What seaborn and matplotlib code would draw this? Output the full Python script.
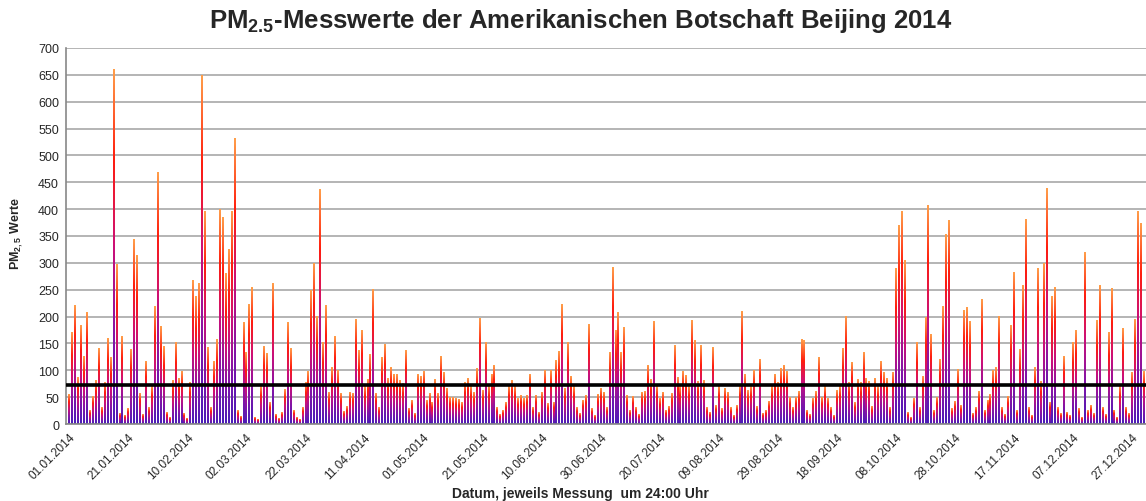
"""
PM2.5 Tageswerte der US-Botschaft Beijing 2014 als Balkendiagramm mit Farbverlauf.
"""

import numpy as np
import pandas as pd
import matplotlib
matplotlib.use("Agg")
import matplotlib.pyplot as plt
from matplotlib.colors import LinearSegmentedColormap
import seaborn as sns

# Tageswerte, je Monat
jan = [54, 171, 221, 86, 183, 126, 208, 25, 52, 81, 141, 30, 77, 160, 123, 660,
       297, 20, 162, 15, 28, 138, 344, 313, 56, 18, 116, 30, 70, 219, 469]
feb = [182, 145, 22, 12, 81, 151, 85, 97, 20, 10, 77, 268, 238, 262, 649, 395,
       143, 30, 116, 157, 400, 384, 281, 325, 395, 531, 25, 14]
mar = [189, 133, 223, 255, 12, 8, 69, 145, 131, 40, 261, 18, 10, 22, 64, 189,
       141, 25, 12, 9, 30, 77, 97, 248, 298, 201, 436, 152, 221, 59, 106]
apr = [162, 100, 56, 24, 32, 59, 56, 195, 136, 175, 69, 83, 129, 251, 56, 30,
       123, 148, 84, 106, 92, 92, 81, 76, 136, 28, 43, 20, 93, 89]
may = [98, 44, 56, 40, 83, 56, 126, 95, 67, 50, 50, 48, 45, 40, 77, 84, 69, 59,
       104, 197, 62, 152, 69, 93, 108, 30, 18, 25, 40, 70, 81]
jun = [69, 48, 53, 48, 53, 92, 30, 53, 22, 59, 100, 38, 100, 40, 118, 135, 222,
       67, 151, 89, 69, 30, 20, 44, 53, 185, 28, 15, 54, 67]
jul = [59, 30, 134, 292, 174, 208, 133, 180, 53, 25, 52, 30, 18, 59, 61, 109,
       82, 191, 69, 47, 59, 25, 32, 56, 146, 87, 69, 97, 90, 69, 193]
aug = [155, 79, 146, 81, 30, 22, 143, 35, 69, 28, 66, 58, 30, 15, 35, 69, 210,
       92, 62, 70, 100, 32, 121, 20, 25, 42, 69, 92, 78, 103, 108]
sep = [97, 50, 30, 50, 61, 157, 156, 25, 18, 47, 61, 124, 50, 69, 47, 30, 15,
       62, 69, 141, 201, 78, 115, 40, 83, 78, 134, 84, 79, 32]
oct_ = [85, 69, 116, 95, 85, 30, 95, 290, 369, 396, 304, 22, 12, 47, 151, 30,
        89, 198, 406, 166, 25, 50, 120, 219, 352, 379, 28, 42, 101, 35, 211]
nov = [217, 190, 20, 30, 61, 232, 25, 44, 54, 100, 106, 200, 30, 18, 52, 183,
       282, 25, 138, 257, 381, 30, 15, 106, 290, 79, 298, 439, 40, 238]
dec = [255, 30, 20, 126, 22, 15, 151, 175, 28, 12, 319, 25, 35, 20, 193, 257,
       30, 18, 171, 253, 25, 12, 69, 178, 30, 20, 95, 195, 395, 373, 98]

grenzwert = 72
y_ticks = list(range(0, 701, 50))

werte = jan + feb + mar + apr + may + jun + jul + aug + sep + oct_ + nov + dec
datum = pd.date_range("2014-01-01", periods=len(werte), freq="D").strftime("%d.%m.%Y")
df = pd.DataFrame({"Datum": datum, "PM25": werte})

sns.set_theme(style="white")
plt.rcParams["font.family"] = ["Liberation Sans", "DejaVu Sans"]
plt.rcParams["mathtext.fontset"] = "custom"
plt.rcParams["mathtext.rm"] = "Liberation Sans"
plt.rcParams["mathtext.bf"] = "Liberation Sans:bold"

W, H = 1146, 502
fig = plt.figure(figsize=(W / 100, H / 100), dpi=100)
ax = fig.add_axes([66 / W, 1 - 425 / H, (1146 - 66) / W, (425 - 49) / H])

sns.barplot(data=df, x="Datum", y="PM25", color="#c0107a", width=0.62,
            errorbar=None, ax=ax)

# Farbverlauf pro Balken: unten violett, oben rot/orange
cmap = LinearSegmentedColormap.from_list(
    "pm", ["#4a1cb8", "#8414a6", "#cc1078", "#ff1e0e", "#ff9e4a"])
grad = np.linspace(0, 1, 128).reshape(-1, 1)
for bar in ax.patches:
    x0, w, h = bar.get_x(), bar.get_width(), bar.get_height()
    ax.imshow(grad, cmap=cmap, aspect="auto", origin="lower",
              extent=(x0, x0 + w, 0, h), zorder=2, interpolation="bilinear")
    bar.set_visible(False)

ax.axhline(grenzwert, color="black", lw=2.6, zorder=4)

ax.set_xlim(-1.1, len(werte) - 0.3)
ax.set_ylim(0, 700)
ax.set_yticks(y_ticks)
ax.set_yticklabels([str(v) for v in y_ticks], fontsize=9)
ax.set_xticks(range(0, len(werte), 20))
ax.set_xticklabels(df["Datum"][::20], rotation=45, ha="right",
                   rotation_mode="anchor", fontsize=8.5)
ax.tick_params(axis="both", length=3, color="#888888", pad=2)
ax.set_xlabel("")
ax.set_ylabel("")

ax.yaxis.grid(True, color="#a0a0a0", lw=1.1)
ax.set_axisbelow(True)
for side in ["top", "right"]:
    ax.spines[side].set_visible(False)
for side in ["left", "bottom"]:
    ax.spines[side].set_color("#888888")
    ax.spines[side].set_linewidth(1.2)

fig.text(581 / W, 1 - 21 / H,
         r"PM$_\mathbf{2.5}$-Messwerte der Amerikanischen Botschaft Beijing 2014",
         fontsize=18.5, fontweight="bold", ha="center", va="center")
fig.text(17 / W, 1 - 234 / H, r"PM$_\mathbf{2,5}$ Werte", fontsize=9,
         fontweight="bold", rotation=90, ha="center", va="center")
fig.text(580 / W, 1 - 494 / H, "Datum, jeweils Messung  um 24:00 Uhr",
         fontsize=10, fontweight="bold", ha="center", va="center")

fig.savefig("out.png", dpi=100)
